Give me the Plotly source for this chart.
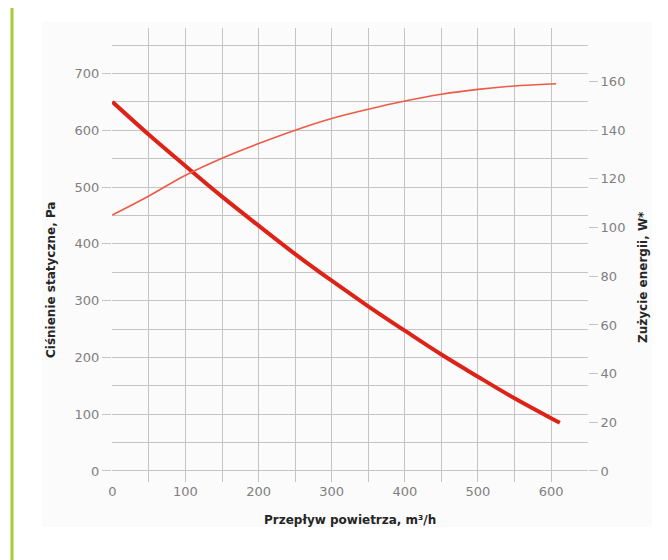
import plotly.graph_objects as go

# ---- data ----
flow_p = [0, 50, 100, 150, 200, 250, 300, 350, 400, 450, 500, 550, 600, 612]
pressure = [650, 592, 537, 483, 432, 382, 335, 290, 247, 205, 166, 128, 93, 85]

flow_w = [0, 50, 100, 150, 200, 250, 300, 350, 400, 450, 500, 550, 600, 607]
power = [105.2, 113, 121.5, 128.5, 134.5, 140, 144.8, 148.6, 152, 154.8, 156.8, 158.2, 159, 159.1]

x_ticks = [0, 100, 200, 300, 400, 500, 600]
y_ticks = [0, 100, 200, 300, 400, 500, 600, 700]
y2_ticks = [0, 20, 40, 60, 80, 100, 120, 140, 160]

x_title = "Przepływ powietrza, m³/h"
y_title = "Ciśnienie statyczne, Pa"
y2_title = "Zużycie energii, W*"

# ---- geometry (page body has an 8px margin) ----
OFF = 8
W, H = 668 - OFF, 560 - OFF
ML, MT = 112 - OFF, 28 - OFF
PW = 476
PH = 454
MR = W - ML - PW
MB = H - MT - PH
y_lo, y_hi = -19.4, 780
k = 30 / 7  # Pa per W


def px2x(px):
    return (px - OFF - ML) / PW


def py2y(py):
    return (MT + PH - (py - OFF)) / PH


grid = "#c4c4c4"
tickfont = dict(family="DejaVu Sans, Verdana, sans-serif", size=13, color="#808080")
titlefont = dict(family="DejaVu Sans, Verdana, sans-serif", size=12, color="#262626")

fig = go.Figure()
fig.add_trace(go.Scatter(
    x=flow_w, y=power, yaxis="y2", mode="lines", line_shape="spline",
    line=dict(color="#ee5a45", width=1.6), showlegend=False, hoverinfo="skip"))
fig.add_trace(go.Scatter(
    x=flow_p, y=pressure, mode="lines", line_shape="spline",
    line=dict(color="#dd2318", width=4), showlegend=False, hoverinfo="skip"))

fig.update_layout(
    width=W, height=H,
    margin=dict(l=ML, r=MR, t=MT, b=MB, pad=0),
    paper_bgcolor="white",
    plot_bgcolor="rgba(0,0,0,0)",
    xaxis=dict(
        range=[-0.5, 650.5], tickmode="array", tickvals=x_ticks,
        ticktext=[str(v) for v in x_ticks], tickfont=tickfont,
        showgrid=True, gridcolor=grid, gridwidth=1.2, zeroline=False,
        showline=False, ticks="",
        minor=dict(dtick=50, tick0=0, showgrid=True, gridcolor=grid, gridwidth=1.2),
    ),
    yaxis=dict(
        range=[y_lo, y_hi], tickmode="array", tickvals=y_ticks,
        ticktext=[str(v) for v in y_ticks], tickfont=tickfont,
        showgrid=True, gridcolor=grid, gridwidth=1.2, zeroline=False,
        showline=False, ticks="outside", ticklen=9, tickcolor=grid, tickwidth=1.2,
        minor=dict(dtick=50, tick0=0, showgrid=True, gridcolor=grid, gridwidth=1.2),
    ),
    yaxis2=dict(
        overlaying="y", side="right", range=[y_lo / k, y_hi / k],
        tickmode="array", tickvals=y2_ticks, ticktext=[str(v) for v in y2_ticks],
        tickfont=tickfont, showgrid=False, zeroline=False, showline=False,
        ticks="outside", ticklen=9, tickcolor=grid, tickwidth=1.2,
    ),
    shapes=[
        dict(type="rect", xref="paper", yref="paper", layer="below",
             x0=px2x(42), x1=px2x(652), y0=py2y(527), y1=py2y(22),
             fillcolor="#fbfbfb", line=dict(width=0)),
        dict(type="line", xref="paper", yref="paper",
             x0=px2x(12), x1=px2x(12), y0=py2y(570), y1=py2y(-10),
             line=dict(color="#a6ce39", width=3)),
    ],
    annotations=[
        dict(text="<b>" + x_title + "</b>", xref="paper", yref="paper",
             x=px2x(350), y=py2y(520), showarrow=False, font=titlefont,
             xanchor="center", yanchor="middle"),
        dict(text="<b>" + y_title + "</b>", xref="paper", yref="paper",
             x=px2x(51), y=py2y(280), showarrow=False, font=titlefont,
             textangle=-90, xanchor="center", yanchor="middle"),
        dict(text="<b>" + y2_title + "</b>", xref="paper", yref="paper",
             x=px2x(643), y=py2y(277), showarrow=False, font=titlefont,
             textangle=-90, xanchor="center", yanchor="middle"),
    ],
)

fig.write_html("out.html")
